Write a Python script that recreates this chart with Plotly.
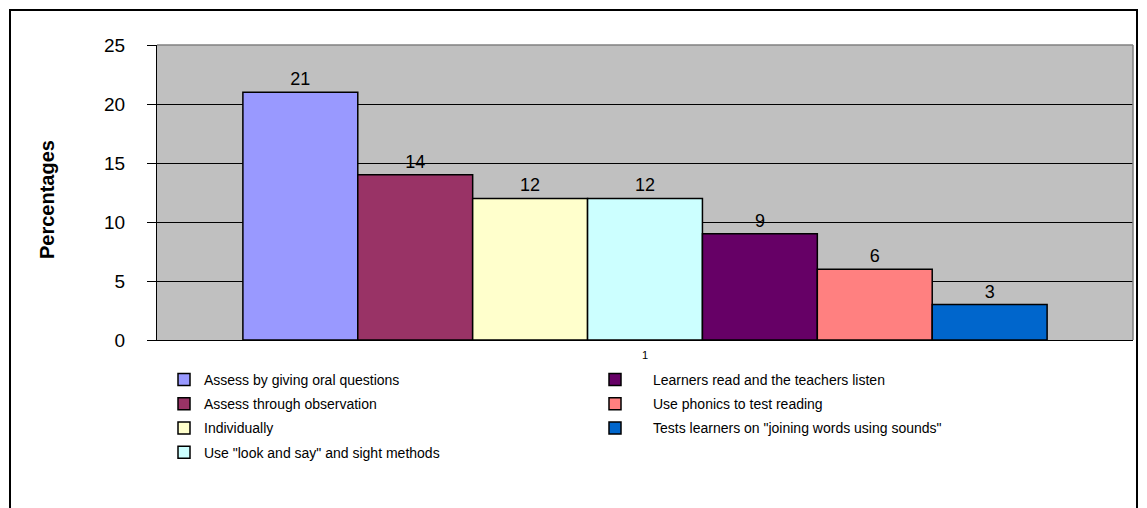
import plotly.graph_objects as go

# Data
category = ["1"]
series_names = [
    "Assess by giving oral questions",
    "Assess through observation",
    "Individually",
    'Use "look and say" and sight methods',
    "Learners read and the teachers listen",
    "Use phonics to test reading",
    'Tests learners on "joining words using sounds"',
]
series_values = [21, 14, 12, 12, 9, 6, 3]
series_colors = ["#9999FF", "#993366", "#FFFFCC", "#CCFFFF", "#660066", "#FF8080", "#0066CC"]
y_ticks = [0, 5, 10, 15, 20, 25]

# the page puts the figure 8px in from the corner, so work in page pixels
OFF = 8
W, H = 1147 - OFF, 508 - OFF
L, R, T, B = 157 - OFF, 14, 45 - OFF, 168
pw, ph = W - L - R, H - T - B


def px_x(x):
    return (x - OFF - L) / pw


def px_y(y):
    return (H - B - (y - OFF)) / ph


fig = go.Figure()
for i, (name, val, col) in enumerate(zip(series_names, series_values, series_colors)):
    fig.add_trace(go.Bar(
        x=category,
        y=[val],
        name=name,
        legendgroup=name,
        marker=dict(color=col, line=dict(color="#000000", width=1.5)),
        text=[str(val)],
        textposition="outside",
        textfont=dict(family="Arial, Liberation Sans", size=18, color="#000000"),
        cliponaxis=False,
        legend="legend" if i < 4 else "legend2",
    ))

legend_font = dict(family="Arial, Liberation Sans", size=14, color="#000000")

fig.update_layout(
    width=W, height=H,
    margin=dict(l=L, r=R, t=T, b=B),
    paper_bgcolor="#FFFFFF",
    plot_bgcolor="#C0C0C0",
    barmode="group",
    bargap=0.176,
    bargroupgap=0,
    showlegend=True,
    legend=dict(
        x=px_x(164), y=px_y(364), xanchor="left", yanchor="top",
        orientation="v", font=legend_font, bgcolor="rgba(0,0,0,0)",
        tracegroupgap=3,
    ),
    legend2=dict(
        x=px_x(577), y=px_y(364), xanchor="left", yanchor="top",
        orientation="v", font=legend_font, bgcolor="rgba(0,0,0,0)",
        itemwidth=66, tracegroupgap=3,
    ),
    xaxis=dict(
        type="category",
        showgrid=False,
        showline=True, linecolor="#000000", linewidth=1,
        ticks="", ticklabelstandoff=5,
        tickfont=dict(family="Arial, Liberation Sans", size=11, color="#000000"),
    ),
    yaxis=dict(
        range=[0, 25],
        tickvals=y_ticks,
        showgrid=True, gridcolor="#000000", gridwidth=1,
        showline=True, linecolor="#000000", linewidth=1,
        ticks="outside", ticklen=9, tickcolor="#000000",
        ticklabelstandoff=18,
        tickfont=dict(family="Arial, Liberation Sans", size=19, color="#000000"),
        zeroline=False,
    ),
    annotations=[dict(
        text="<b>Percentages</b>", textangle=-90,
        x=px_x(47), y=px_y(200), xref="paper", yref="paper",
        xanchor="center", yanchor="middle",
        showarrow=False,
        font=dict(family="Arial, Liberation Sans", size=20, color="#000000"),
    )],
    shapes=[
        # plot area top and right edges
        dict(type="line", xref="paper", yref="paper", x0=0, x1=1, y0=1, y1=1,
             line=dict(color="#808080", width=1.5)),
        dict(type="line", xref="paper", yref="paper", x0=1, x1=1, y0=0, y1=1,
             line=dict(color="#808080", width=1.5)),
        # outer chart border
        dict(type="rect", xref="paper", yref="paper",
             x0=px_x(10), x1=px_x(1137), y0=px_y(10), y1=px_y(520),
             line=dict(color="#000000", width=2)),
        dict(type="line", xref="paper", yref="paper",
             x0=px_x(1140.5), x1=px_x(1140.5), y0=px_y(10), y1=px_y(520),
             line=dict(color="#000000", width=1.5)),
    ],
)

fig.write_html("out.html")
